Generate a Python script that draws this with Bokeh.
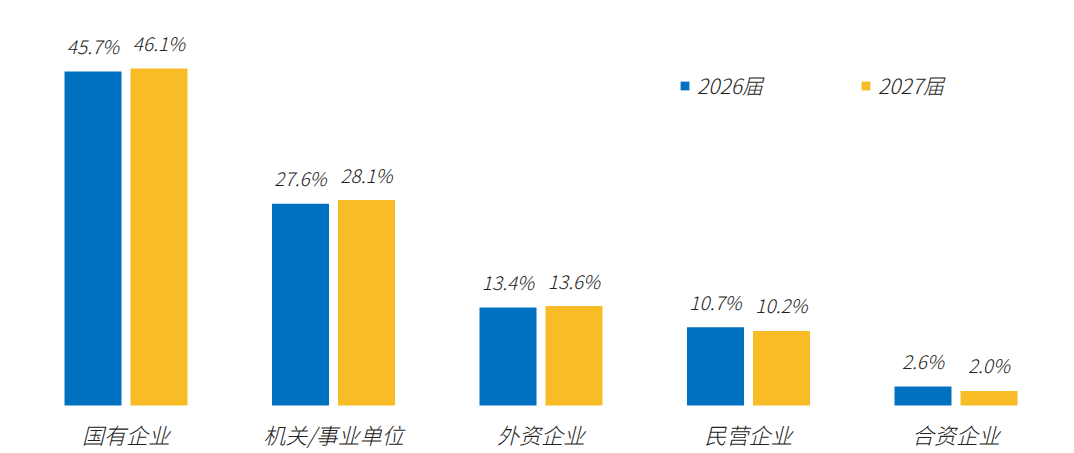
from bokeh.plotting import figure
from bokeh.models import Range1d, ColumnDataSource, Legend, LegendItem
from bokeh.core.properties import value
from bokeh.embed import file_html
from bokeh.resources import INLINE

categories = ["国有企业", "机关/事业单位", "外资企业", "民营企业", "合资企业"]
series_names = ["2026届", "2027届"]
values_2026 = [45.7, 27.6, 13.4, 10.7, 2.6]
values_2027 = [46.1, 28.1, 13.6, 10.2, 2.0]
colors = ["#0070C0", "#F8BC26"]

FONT = "Noto Sans CJK SC Light"
W, H = 1058, 453
px_per_x = 207.5
x0 = -125.5 / px_per_x
px_per_y = 7.31
base = 405
y_top = base / px_per_y
y_bot = -(H - base) / px_per_y

p = figure(width=W, height=H, output_backend="svg", toolbar_location=None,
           x_range=Range1d(x0, x0 + W / px_per_x), y_range=Range1d(y_bot, y_top),
           min_border=0)
p.axis.visible = False
p.grid.visible = False
p.outline_line_color = None
p.background_fill_color = "white"
p.border_fill_color = "white"

idx = list(range(len(categories)))
off = 33 / px_per_x
bw = 57 / px_per_x
renderers = []
for k, vals in enumerate([values_2026, values_2027]):
    xs = [i + (-off if k == 0 else off) for i in idx]
    src = ColumnDataSource(dict(x=xs, top=vals, lab=[f"{v:.1f}%" for v in vals]))
    r = p.vbar(x="x", top="top", bottom=0, width=bw, source=src,
               fill_color=colors[k], line_color=None)
    renderers.append(r)
    p.text(x="x", y="top", text="lab", source=src, text_align="center",
           text_baseline="middle", y_offset=-26, text_font=value(FONT),
           text_font_size="19px", text_font_style="italic", text_color="#222222")

csrc = ColumnDataSource(dict(x=idx, y=[0] * len(idx), t=categories))
p.text(x="x", y="y", text="t", source=csrc, text_align="center",
       text_baseline="middle", y_offset=28, text_font=value(FONT),
       text_font_size="22px", text_font_style="italic", text_color="#222222")

legend = Legend(items=[LegendItem(label=series_names[k], renderers=[renderers[k]]) for k in range(2)],
                orientation="horizontal", location=(679, H - 100),
                glyph_width=11, glyph_height=11, label_standoff=7, spacing=97,
                padding=0, margin=0, border_line_color=None, background_fill_alpha=0,
                label_text_font=FONT, label_text_font_size="21px",
                label_text_font_style="italic", label_text_color="#222222")
p.add_layout(legend, "center")

open("out.html", "w").write(file_html(p, INLINE))
